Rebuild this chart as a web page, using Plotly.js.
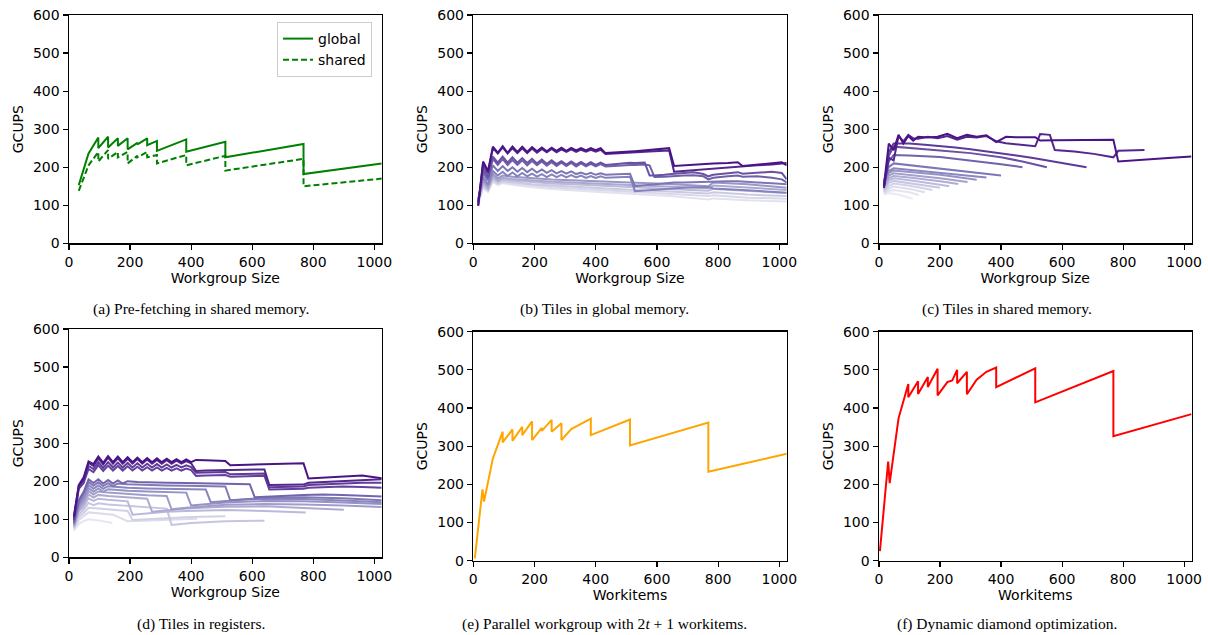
<!DOCTYPE html>
<html><head><meta charset="utf-8">
<script src="https://cdn.plot.ly/plotly-3.0.1.min.js"></script>
<style>html,body{margin:0;padding:0;background:#fff}#chart{width:1208px;height:635px}</style>
</head><body><div id="chart"></div>
<script>
// ---------------- DATA ----------------
const xTicks = [0,200,400,600,800,1000];
const yTicks = [0,100,200,300,400,500,600];
const captions = ["(a) Pre-fetching in shared memory.","(b) Tiles in global memory.","(c) Tiles in shared memory.",
  "(d) Tiles in registers.","(e) Parallel workgroup with 2<i>t</i> + 1 workitems.","(f) Dynamic diamond optimization."];
const xTitles = ["Workgroup Size","Workgroup Size","Workgroup Size","Workgroup Size","Workitems","Workitems"];

// (a)
const aGlobalX = [32,64,96,96,128,128,160,160,192,192,224,224,256,256,288,288,384,384,512,512,768,768,1024];
const aGlobalY = [153,236,278,250,280,252,276,256,276,247,264,260,276,258,269,243,273,241,267,226,261,182,210];
const aSharedX = [32,64,96,96,128,128,160,160,192,192,224,224,256,256,288,288,384,384,512,512,768,768,1024,1024];
const aSharedY = [138,205,240,215,245,222,240,226,240,210,230,226,240,226,232,210,232,205,230,191,222,150,170,176];

// (b)
const bX = [16,32,48,64,80,96,112,128,144,160,176,192,208,224,240,256,272,288,304,320,336,352,368,384,400,416,
  432,464,496,512,528,560,576,592,624,640,656,688,720,752,768,784,832,864,880,928,976,1008,1024];
const b1 = [100,215,190,254,238,255,238,254,240,254,240,253,242,252,242,251,243,251,243,251,244,250,244,250,245,250,
  237,238,240,241,242,244,245,246,248,250,203,205,207,208,209,210,211,213,203,207,212,213,205];
const b2 = [98,210,185,250,236,252,236,250,237,250,237,249,238,248,239,248,239,247,240,247,240,246,241,246,241,246,
  235,236,237,238,239,240,241,242,243,244,188,190,192,194,195,197,200,202,203,205,207,209,211];
const b3 = [108,200,175,228,212,228,212,226,212,224,211,222,210,220,209,218,208,216,207,215,207,214,206,213,206,212,
  206,208,210,212,211,212,178,178,180,182,183,185,187,182,176,180,185,187,183,186,188,185,168];
const b4 = [106,192,170,222,206,221,206,219,206,218,205,216,205,215,204,213,203,212,203,211,202,210,202,209,202,208,
  202,204,205,206,206,207,205,174,175,176,177,178,179,176,168,172,176,178,175,176,172,168,160];
const b5 = [112,185,165,205,190,203,190,200,188,198,187,196,186,194,185,192,184,190,183,189,182,186,181,185,180,184,
  180,181,182,183,150,152,154,155,157,158,160,160,161,162,162,163,163,163,162,160,158,156,155];
const b6 = [110,175,155,190,178,188,177,186,176,185,176,183,175,182,174,181,174,180,173,179,173,178,172,177,172,176,
  172,173,174,175,137,139,140,141,143,144,145,146,147,148,148,144,143,141,140,138,136,134,133];
const bLX = [16,32,48,64,80,96,128,160,192,256,320,384,512,640,768,784,896,1024];
const b7 = [118,168,150,182,170,178,175,173,171,168,166,164,160,156,150,160,155,146];
const b8 = [115,162,146,176,165,172,169,167,165,162,160,158,154,150,145,152,146,140];
const b9 = [112,157,142,172,162,168,165,163,160,157,155,152,148,143,138,143,137,132];
const b10 = [108,152,140,168,158,164,161,158,155,152,149,146,141,136,131,134,128,124];
const b11 = [105,148,138,165,156,161,157,154,151,147,144,141,136,130,124,126,120,117];
const b12 = [102,145,135,162,153,158,154,150,147,143,139,136,130,124,115,118,113,110];
const bColors = ["#4a1486","#54278f","#6a51a3","#7060aa","#7c76b6","#8682bd","#9a96c6","#aba8d1","#bbbbdb","#cacae2","#d8d8ea","#e3e2ef"];

// (c)
const c1x = [16,32,48,64,80,96,112,128,160,192,224,256,288,320,352,384,416,448,512,528,576,640,704,768,784,832,896,960,1024];
const c1y = [150,262,245,285,262,282,270,280,278,280,288,276,285,280,284,266,280,279,279,270,271,271,272,272,215,218,222,225,228];
const c2x = [16,32,48,64,80,96,112,128,160,192,224,256,288,320,352,384,416,448,512,528,560,576,640,704,768,784,832,870];
const c2y = [145,225,218,282,268,285,276,275,280,276,282,272,280,278,282,268,263,260,255,287,285,245,241,235,226,243,244,245];
const c3x = [16,32,48,64,100,150,200,250,300,350,400,450,500,550,600,640,680];
const c3y = [150,240,262,262,262,259,256,252,247,242,237,231,225,218,210,206,200];
const c4x = [16,32,48,100,200,300,400,470,550];
const c4y = [148,230,254,250,244,237,226,215,200];
const c5x = [16,32,48,100,200,300,400,470];
const c5y = [146,215,232,231,227,218,208,200];
const c6x = [16,32,48,100,200,300,400];
const c6y = [165,200,210,205,197,187,178];
const c7x = [16,32,48,100,200,300,352];
const c7y = [160,190,197,193,185,177,173];
const c8x = [16,32,48,100,200,320];
const c8y = [155,185,191,187,180,167];
const c9x = [16,32,48,100,200,290];
const c9y = [150,178,184,180,171,161];
const c10x = [16,32,48,100,200,260];
const c10y = [146,171,177,173,163,156];
const c11x = [16,32,48,100,200,230];
const c11y = [142,165,171,166,154,150];
const c12x = [16,32,48,100,200];
const c12y = [138,158,164,158,146];
const c13x = [16,32,48,100,175];
const c13y = [135,150,157,151,140];
const c14x = [16,32,48,100,150];
const c14y = [132,143,149,143,134];
const c15x = [16,32,48,100,130];
const c15y = [130,137,140,134,127];
const c16x = [16,32,64,110];
const c16y = [128,132,128,117];
const cColors = ["#4a1486","#54278f","#5d3a9a","#6a51a3","#7262ac","#7d77b8","#8a86bf","#9792c6","#a3a0cc","#afadd3","#bbbbdb","#c7c7e1","#d2d2e7","#dcdcec","#e4e3f0","#ebe9f4"];

// (d)
const dZ = [16,32,48,64,80,96,112,128,144,160,176,192,208,224,240,256,272,288,304,320,336,352,368,384,400];
const d1x = dZ.concat([416,448,480,512,528,576,640,704,768,784,832,896,960,1024]);
const d1y = [108,190,210,252,245,265,248,266,250,265,250,263,250,262,250,261,250,260,250,259,250,258,250,257,250,
  256,255,254,253,242,243,244,246,247,207,209,212,215,208];
const d2x = dZ.concat([416,448,512,576,640,656,704,768,784,832,896,960,1024]);
const d2y = [105,188,205,248,240,260,244,262,246,260,246,259,246,258,246,257,246,256,246,255,246,254,246,253,247,
  227,228,229,230,231,190,190,191,196,198,200,203,205];
const d3x = dZ.concat([416,448,512,528,576,640,656,704,768,784,832,896,960,1024]);
const d3y = [100,183,200,240,232,250,235,250,236,249,236,248,236,247,236,246,236,245,236,244,236,243,236,242,237,
  222,223,224,218,219,220,184,185,186,190,192,194,196,196];
const d4x = dZ.concat([416,448,512,528,576,640,656,704,768,784,832,896,960,1024]);
const d4y = [98,180,195,232,224,242,227,241,228,240,228,239,228,238,228,237,228,236,228,235,228,234,228,233,229,
  214,215,216,212,213,214,178,179,180,183,185,186,185,183];
const m1x = [16,32,48,64,80,96,112,128,144,160,176,192,224,256,320,384,448,512,576,592,608,704,768,832,896,1024];
const m1y = [92,150,172,205,195,205,194,203,194,202,194,200,198,197,196,195,194,193,192,192,158,162,164,165,164,160];
const m2x = [16,32,48,64,80,96,112,128,144,160,192,224,256,320,384,448,512,528,576,640,704,768,896,1024];
const m2y = [90,145,168,198,188,197,187,195,187,194,192,191,190,189,188,187,186,150,153,156,157,158,155,150];
const m3x = [16,32,48,64,80,96,112,128,160,192,256,320,384,448,464,512,576,640,768,896,1024];
const m3y = [88,140,162,190,180,189,180,187,185,183,181,180,179,178,145,148,152,154,153,149,145];
const m4x = [16,32,48,64,80,96,112,128,160,192,256,320,384,400,448,512,640,768,896,1024];
const m4y = [86,135,155,182,172,181,172,179,177,175,173,171,170,136,140,144,148,147,144,140];
const m5x = [16,32,48,64,80,96,128,160,192,256,320,336,384,448,512,640,768,896,1024];
const m5y = [84,130,148,174,165,173,170,168,166,163,161,126,130,134,138,140,139,136,132];
const l1x = [16,32,48,64,80,96,128,160,192,256,272,320,384,448,512,640,768,900];
const l1y = [82,125,140,165,157,164,161,159,157,154,120,124,128,131,133,134,130,125];
const l2x = [16,32,48,64,80,96,128,160,192,208,256,320,384,512,640,775];
const l2y = [80,120,133,155,148,154,151,149,147,112,116,120,122,124,122,118];
const l3x = [16,32,48,64,80,96,128,160,192,256,320,336,400,512,640];
const l3y = [78,112,125,143,137,142,139,137,135,132,128,85,90,95,96];
const l4x = [16,32,48,64,96,128,160,192,208,256,320,400,512];
const l4y = [76,105,116,130,128,126,124,122,98,100,103,106,108];
const l5x = [16,32,48,64,96,128,144,192,256,320,420];
const l5y = [74,98,108,118,116,114,112,95,97,99,101];
const l6x = [16,32,48,64,96,128,142];
const l6y = [70,88,95,100,97,93,90];
const dColors = ["#4a1486","#54278f","#5e3c99","#663f9f","#7464ae","#7f79b8","#8a86bf","#9592c6","#a09dcb",
  "#aeabd3","#bab9da","#c6c5e0","#d1d1e6","#dbdbec","#e6e5f1"];

// (e)
const eX = [5,30,35,64,96,96,128,128,160,160,192,192,224,224,256,256,288,288,320,352,384,384,512,512,768,768,1024];
const eY = [6,187,155,268,338,310,344,314,351,329,365,316,348,340,369,338,360,316,345,358,372,329,370,302,362,233,280];
// (f)
const fX = [3,30,35,64,96,96,128,128,160,160,192,192,224,240,256,256,288,288,320,352,384,384,512,512,768,768,1024];
const fY = [25,260,203,373,463,428,470,437,481,455,503,433,468,472,500,465,495,436,474,495,506,455,504,415,497,326,384];

// ---------------- LAYOUT ----------------
const W = 1208, H = 635;
const boxes = [
  {x:[69,381.7], y:[15,243.3]}, {x:[473.3,786.7], y:[15,243.3]}, {x:[879,1191.5], y:[15,243.3]},
  {x:[69,381.7], y:[329,557.3]}, {x:[473.3,786.7], y:[331.7,560.7]}, {x:[879,1191.5], y:[331.7,560.7]}
];
const capPos = [[201,309],[604,309],[1007,309],[201,624],[604,624],[1007,624]];
const FONT = "DejaVu Sans";
const FS = 14;
const traces = [];
function line(x, y, color, p, extra) {
  const t = Object.assign({x:x, y:y, type:'scatter', mode:'lines', line:{color:color, width:2},
    xaxis: p===0?'x':'x'+(p+1), yaxis: p===0?'y':'y'+(p+1), showlegend:false, hoverinfo:'skip'}, extra||{});
  traces.push(t);
}
// a
line(aGlobalX, aGlobalY, '#008000', 0, {name:'global', showlegend:true});
line(aSharedX, aSharedY, '#008000', 0, {name:'shared', showlegend:true, line:{color:'#008000', width:2, dash:'6px,3px'}});
// b (light first so dark on top)
const bSeries = [[bLX,b12],[bLX,b11],[bLX,b10],[bLX,b9],[bLX,b8],[bLX,b7],[bX,b6],[bX,b5],[bX,b4],[bX,b3],[bX,b2],[bX,b1]];
bSeries.forEach((s,i)=>line(s[0], s[1], bColors[11-i], 1));
// c
const cSeries = [[c1x,c1y],[c2x,c2y],[c3x,c3y],[c4x,c4y],[c5x,c5y],[c6x,c6y],[c7x,c7y],[c8x,c8y],[c9x,c9y],[c10x,c10y],[c11x,c11y],[c12x,c12y],[c13x,c13y],[c14x,c14y],[c15x,c15y],[c16x,c16y]];
for (let i=cSeries.length-1;i>=0;i--) line(cSeries[i][0], cSeries[i][1], cColors[i], 2);
// d
const dSeries = [[d1x,d1y],[d2x,d2y],[d3x,d3y],[d4x,d4y],[m1x,m1y],[m2x,m2y],[m3x,m3y],[m4x,m4y],[m5x,m5y],[l1x,l1y],[l2x,l2y],[l3x,l3y],[l4x,l4y],[l5x,l5y],[l6x,l6y]];
for (let i=dSeries.length-1;i>=0;i--) line(dSeries[i][0], dSeries[i][1], dColors[i], 3);
// e, f
line(eX, eY, '#ffa500', 4);
line(fX, fY, '#ff0000', 5);

const layout = {width:W, height:H, margin:{l:0,r:0,t:0,b:0}, paper_bgcolor:'#fff', plot_bgcolor:'#fff',
  font:{family:FONT, size:FS, color:'#000'}, showlegend:true,
  legend:{x:277/W, y:1-22/H, xanchor:'left', yanchor:'top', bgcolor:'#fff', bordercolor:'#cccccc', borderwidth:1,
    font:{family:FONT, size:FS, color:'#000'}, tracegroupgap:0},
  annotations:[]};
boxes.forEach((b,i)=>{
  const s = i===0?'':(i+1);
  layout['xaxis'+s] = {domain:[b.x[0]/W, b.x[1]/W], range:[0,1024], tickvals:xTicks, ticktext:xTicks.map(String),
    showline:true, mirror:true, linecolor:'#000', linewidth:1.5, ticks:'outside', ticklen:5, tickwidth:1.2, tickcolor:'#000',
    showgrid:false, zeroline:false, anchor:'y'+s, tickfont:{family:FONT,size:FS,color:'#000'},
    title:{text:xTitles[i], font:{family:FONT,size:FS,color:'#000'}, standoff:2}};
  layout['yaxis'+s] = {domain:[1-b.y[1]/H, 1-b.y[0]/H], range:[0,600], tickvals:yTicks, ticktext:yTicks.map(String),
    showline:true, mirror:true, linecolor:'#000', linewidth:1.5, ticks:'outside', ticklen:5, tickwidth:1.2, tickcolor:'#000',
    showgrid:false, zeroline:false, anchor:'x'+s, tickfont:{family:FONT,size:FS,color:'#000'},
    title:{text:'GCUPS', font:{family:FONT,size:FS,color:'#000'}, standoff:6}};
  layout.annotations.push({text:captions[i], xref:'paper', yref:'paper', x:capPos[i][0]/W, y:1-capPos[i][1]/H,
    xanchor:'center', yanchor:'middle', showarrow:false, font:{family:'Liberation Serif', size:15.5, color:'#000'}});
});
Plotly.newPlot('chart', traces, layout, {staticPlot:true, displayModeBar:false});
</script></body></html>
